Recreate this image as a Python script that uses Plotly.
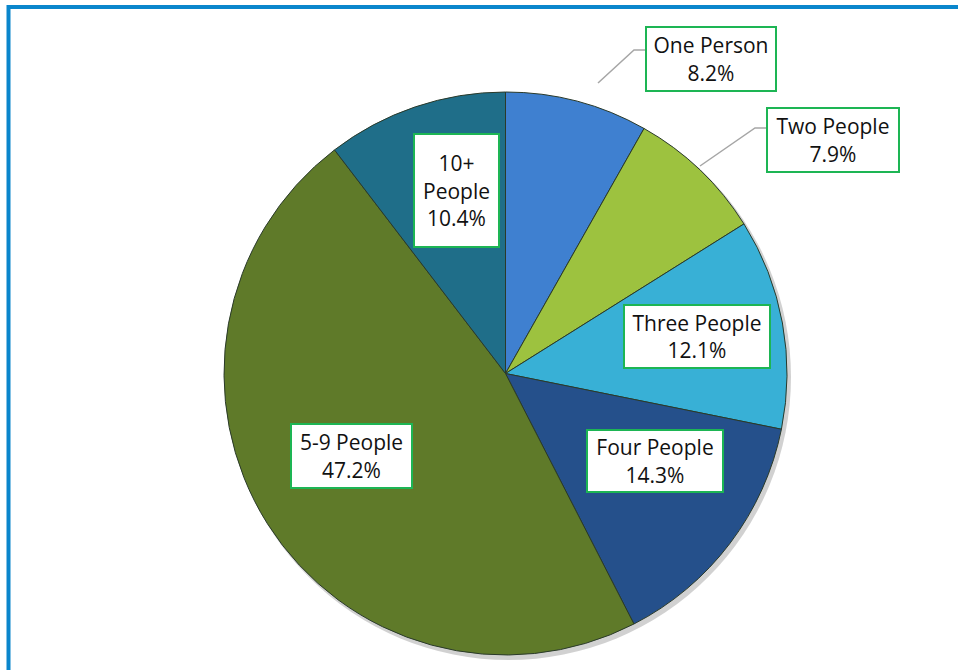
import plotly.graph_objects as go

# ---- data ----
categories = ["One Person", "Two People", "Three People", "Four People", "5-9 People", "10+ People"]
shares = [8.2, 7.9, 12.1, 14.3, 47.2, 10.4]
label_texts = ["One Person<br>8.2%", "Two People<br>7.9%", "Three People<br>12.1%",
               "Four People<br>14.3%", "5-9 People<br>47.2%", "10+<br>People<br>10.4%"]

# ---- styles ----
colors = ["#3f80d0", "#9dc23f", "#38b0d6", "#25508b", "#5f7a29", "#1f6e89"]
W, H = 958, 670
# label box centres / sizes in pixels (layout only)
boxes = [
    (711, 59, 132, 66),
    (833, 140, 134, 66),
    (697, 336.5, 148, 65),
    (655, 460.5, 138, 64),
    (351.5, 456, 123, 66),
    (456.5, 190.5, 87, 115),
]

def px(x):
    return x / W

def py(y):
    return 1 - y / H

fig = go.Figure()
fig.add_trace(go.Pie(
    labels=categories,
    values=shares,
    sort=False,
    direction="clockwise",
    rotation=0,
    textinfo="none",
    hoverinfo="label+percent",
    marker=dict(colors=colors, line=dict(color="#2a3a2a", width=1)),
    domain=dict(x=[224 / W, 787 / W], y=[py(655), py(92)]),
    showlegend=False,
))

annotations = []
for (cx, cy, bw, bh), txt in zip(boxes, label_texts):
    annotations.append(dict(
        x=px(cx), y=py(cy), xref="paper", yref="paper",
        xanchor="center", yanchor="middle",
        text=txt, showarrow=False,
        font=dict(family="Open Sans, Lato, sans-serif", size=21, color="#111111"),
        bgcolor="white", bordercolor="#1db554", borderwidth=2, borderpad=0,
        width=bw - 4, height=bh - 4, align="center", valign="middle",
    ))

shapes = [
    # soft shadow under the pie
    dict(type="circle", xref="paper", yref="paper",
         x0=px(226), x1=px(791), y0=py(660), y1=py(94),
         fillcolor="rgba(0,0,0,0.18)", line=dict(width=0), layer="below"),
    # outer frame (top and left edges visible)
    dict(type="line", xref="paper", yref="paper",
         x0=px(7), x1=px(980), y0=py(7), y1=py(7),
         line=dict(color="#0a86cc", width=4), layer="above"),
    dict(type="line", xref="paper", yref="paper",
         x0=px(8.5), x1=px(8.5), y0=py(5), y1=py(700),
         line=dict(color="#0a86cc", width=4), layer="above"),
    # leader lines
    dict(type="path", xref="paper", yref="paper",
         path=f"M {px(598)} {py(83)} L {px(634)} {py(50)} L {px(645)} {py(50)}",
         line=dict(color="#a6a6a6", width=1.5)),
    dict(type="path", xref="paper", yref="paper",
         path=f"M {px(700)} {py(166)} L {px(755)} {py(128)} L {px(766)} {py(128)}",
         line=dict(color="#a6a6a6", width=1.5)),
]

fig.update_layout(
    width=W, height=H,
    margin=dict(l=0, r=0, t=0, b=0),
    paper_bgcolor="white", plot_bgcolor="white",
    annotations=annotations, shapes=shapes,
)
fig.write_html(
    "out.html",
    config={"displayModeBar": False},
    post_script="document.body.style.margin='0';document.body.style.overflow='hidden';",
)
